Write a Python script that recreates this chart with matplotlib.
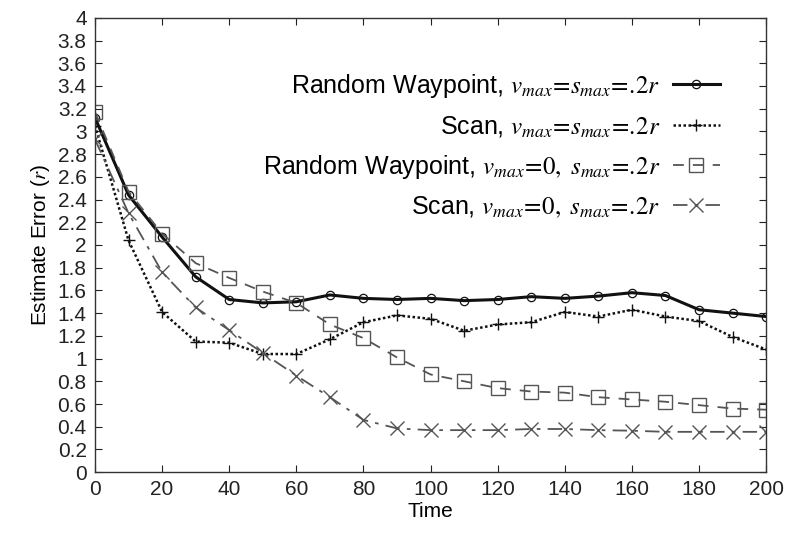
import matplotlib
matplotlib.use('Agg')
import matplotlib.pyplot as plt

plt.rcParams['font.family'] = ['Liberation Sans', 'DejaVu Sans']
plt.rcParams['mathtext.fontset'] = 'stix'

# Estimate error over time for each mobility model
time = [0, 10, 20, 30, 40, 50, 60, 70, 80, 90, 100,
        110, 120, 130, 140, 150, 160, 170, 180, 190, 200]
rwp_moving = [3.12, 2.44, 2.07, 1.72, 1.52, 1.49, 1.50, 1.56, 1.53, 1.52, 1.53,
              1.51, 1.52, 1.545, 1.53, 1.55, 1.58, 1.555, 1.43, 1.40, 1.37]
scan_moving = [3.05, 2.04, 1.41, 1.15, 1.14, 1.04, 1.04, 1.17, 1.32, 1.38, 1.35,
               1.245, 1.30, 1.32, 1.41, 1.37, 1.43, 1.37, 1.33, 1.19, 1.08]
rwp_static = [3.17, 2.47, 2.10, 1.84, 1.71, 1.59, 1.49, 1.30, 1.18, 1.01, 0.86,
              0.80, 0.74, 0.71, 0.70, 0.66, 0.64, 0.62, 0.59, 0.56, 0.55]
scan_static = [2.93, 2.28, 1.76, 1.45, 1.25, 1.05, 0.85, 0.66, 0.46, 0.385, 0.37,
               0.37, 0.37, 0.38, 0.38, 0.37, 0.365, 0.355, 0.355, 0.355, 0.355]

# tight "=" and ".2" to keep the math compact
labels = [
    r"Random Waypoint, $v_{max}\!=\!s_{max}\!=\!.\!2r$",
    r"Scan, $v_{max}\!=\!s_{max}\!=\!.\!2r$",
    r"Random Waypoint, $v_{max}\!=\!0,\ s_{max}\!=\!.\!2r$",
    r"Scan, $v_{max}\!=\!0,\ s_{max}\!=\!.\!2r$",
]

fig = plt.figure(figsize=(7.85, 5.39), dpi=100)
ax = fig.add_axes([0.121, 0.124, 0.855, 0.843])

ax.plot(time, rwp_moving, color='#111111', lw=2.2, ls='-', marker='o',
        ms=6, mfc='none', mew=0.9, label=labels[0])
ax.plot(time, scan_moving, color='#111111', lw=1.8, ls=(0, (1, 1)), marker='+',
        ms=8, mew=1.0, label=labels[1])
ax.plot(time, rwp_static, color='#555555', lw=1.3, ls=(0, (6, 5)), marker='s',
        ms=10, mfc='none', mew=1.0, label=labels[2])
ax.plot(time, scan_static, color='#555555', lw=1.3, ls=(0, (8, 4, 2, 4)), marker='x',
        ms=10, mew=1.0, label=labels[3])

ax.set_xlim(0, 200)
ax.set_ylim(0, 4)
ax.set_xticks(range(0, 201, 20))
ax.set_yticks([i * 0.2 for i in range(21)])
ax.set_yticklabels(['%g' % round(i * 0.2, 1) for i in range(21)])
ax.tick_params(direction='in', top=True, right=True, length=5, labelsize=15,
               colors='#222222', pad=6)
for s in ax.spines.values():
    s.set_color('#333333')
    s.set_linewidth(1.0)

ax.set_xlabel('Time', fontsize=15, labelpad=2)
ax.set_ylabel(r'Estimate Error ($r$)', fontsize=15, labelpad=4)

ax.legend(loc='upper right', bbox_to_anchor=(0.95, 0.908), frameon=False,
          markerfirst=False, fontsize=18, handlelength=1.9, handletextpad=0.5,
          labelspacing=0.55, borderpad=0)

fig.savefig('out.png', dpi=100)
